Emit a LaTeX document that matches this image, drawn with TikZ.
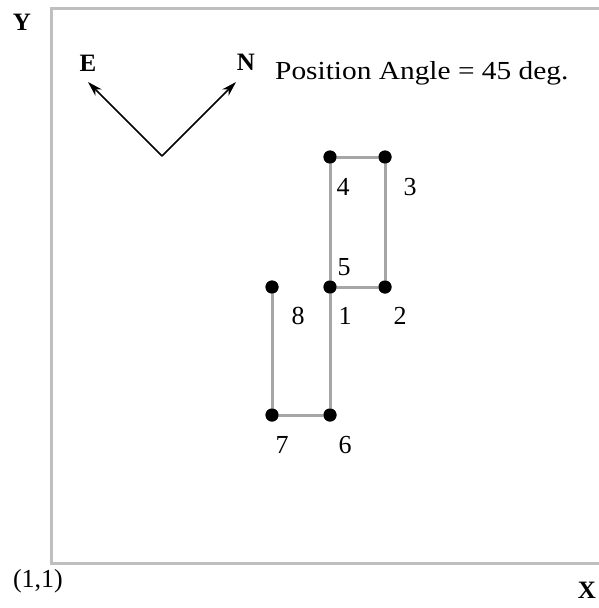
\documentclass[tikz,border=0pt]{standalone}
\usepackage{fontspec}
\setmainfont{Liberation Serif}
\usetikzlibrary{arrows.meta}
\begin{document}
\begin{tikzpicture}[x=1pt,y=-1pt,
  frame/.style={draw=black!25, line width=3pt},
  link/.style={draw=black!35, line width=3pt},
  dot/.style={circle, fill=black, inner sep=0pt, minimum size=13pt},
  lbl/.style={font=\fontsize{26}{30}\selectfont, inner sep=0pt},
  blbl/.style={font=\fontsize{25}{30}\selectfont\bfseries, inner sep=0pt},
  dir/.style={draw=black, line width=1.5pt, -{Stealth[length=15pt,width=9pt]}}]
\useasboundingbox (0,0) rectangle (598,608);
% frame
\coordinate (tr) at (600,8);
\coordinate (tl) at (51,8);
\coordinate (bl) at (51,563);
\coordinate (br) at (600,563);
\draw[frame] (tr) -- (tl) -- (bl) -- (br);
\node[blbl] (Y) at (22,22) {Y};
\node[blbl] (X) at (587,590) {X};
\node[lbl] (orig) at (38,581) {(1,1)};
% compass
\coordinate (o) at (162,156);
\coordinate (etip) at (88,82);
\coordinate (ntip) at (236,82);
\draw[dir] (o) -- (etip);
\draw[dir] (o) -- (ntip);
\node[blbl] (E) at (88,63) {E};
\node[blbl] (N) at (246,62) {N};
\node[lbl, anchor=west] (pa) at (275,73) {\scalebox{1.13}[1]{Position Angle = 45 deg.}};
% points
\node[dot] (p4) at (330,157) {};
\node[dot] (p3) at (385,157) {};
\node[dot] (p1) at (330,287) {};
\node[dot] (p2) at (385,287) {};
\node[dot] (p8) at (272,287) {};
\node[dot] (p7) at (272,415) {};
\node[dot] (p6) at (330,415) {};
\draw[link] (p4.center) -- (p3.center) -- (p2.center) -- (p1.center) -- (p4.center);
\draw[link] (p1.center) -- (p6.center) -- (p7.center) -- (p8.center);
\foreach \p in {p1,p2,p3,p4,p6,p7,p8} \fill (\p) circle (6.5pt);
% labels
\node[lbl] (l4) at (343,187) {4};
\node[lbl] (l3) at (410,187) {3};
\node[lbl] (l5) at (344,267) {5};
\node[lbl] (l8) at (298,316) {8};
\node[lbl] (l1) at (345,316) {1};
\node[lbl] (l2) at (400,316) {2};
\node[lbl] (l7) at (282,445) {7};
\node[lbl] (l6) at (345,445) {6};
\end{tikzpicture}
\end{document}
